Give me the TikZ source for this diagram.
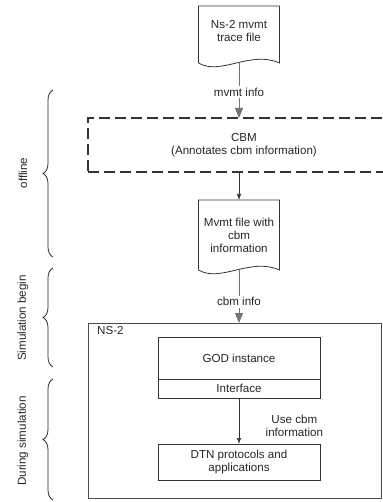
\documentclass[tikz,border=0pt]{standalone}
\usepackage{fontspec}
\setmainfont{Liberation Sans}
\usepackage{tikz}
\usetikzlibrary{arrows.meta}
\tikzset{>={Latex[length=6,width=4.5]}}
\usetikzlibrary{calc,positioning,decorations.pathreplacing}
\usepackage{xcolor}
\colorlet{mydarkgray}{black!80}
\colorlet{mygray}{black!55}

% document outline round a node: name, height above centre, depth below centre
\newcommand{\docoutline}[3]{%
  \draw[docline] ($(#1.center)+(-40.5,#3)$) -- ($(#1.center)+(-40.5,-#2)$)
    -- ($(#1.center)+(40.5,-#2)$) -- ($(#1.center)+(40.5,#3)$)
    .. controls ($(#1.center)+(11.5,#3-13)$) and ($(#1.center)+(-18.5,#3+13)$) .. ($(#1.center)+(-40.5,#3)$);}

\begin{document}
\begin{tikzpicture}[x=1pt,y=-1pt,
    every node/.style={font=\fontsize{11.6}{13}\selectfont,text=black!85,align=center},
    box/.style={draw=mydarkgray,line width=0.8,minimum width=162,outer sep=0,inner sep=0},
    docnode/.style={minimum width=81,inner sep=0,outer sep=0},
    docline/.style={draw=mydarkgray,line width=0.8},
    dashbox/.style={draw=mydarkgray,line width=1.6,dash pattern=on 11 off 5,outer sep=0},
    grayarrow/.style={draw=mygray,line width=0.8,-{Triangle[length=10,width=8,fill=mygray]}},
    blackarrow/.style={draw=mydarkgray,line width=0.7,->},
    bracestyle/.style={draw=black!85,line width=0.8,decorate,decoration={brace,amplitude=10}},
    sidelabel/.style={rotate=90}]
    \useasboundingbox (0,0) rectangle (382,502);

    % files
    \node[docnode,minimum height=63] (trace) at (239,31.5) {Ns-2 mvmt\\trace file};
    \docoutline{trace}{25.5}{31.5}
    \node[dashbox,minimum width=312,minimum height=54] (cbm) at (244,145) {CBM\\(Annotates cbm information)};
    \node[docnode,minimum height=70] (mvmt) at (239,235) {Mvmt file with\\cbm\\information};
    \docoutline{mvmt}{35}{35}

    % simulator
    \node[draw=black!70,line width=0.8,minimum width=293,minimum height=175,anchor=north west,outer sep=0] (ns2) at (88,323) {};
    \node[anchor=north west,inner sep=0] (ns2title) at (97,326) {NS-2};
    \node[box,minimum height=42] (god) at (239,358) {GOD instance};
    \node[box,minimum height=19,below=0pt of god] (iface) {Interface};
    \node[box,minimum height=36] (dtn) at (239,462) {DTN protocols and\\applications};

    \draw[grayarrow] (trace.south) -- (trace.south |- cbm.north) node[pos=0.53,fill=white,inner sep=1.5] {mvmt info};
    \draw[blackarrow] (cbm.south -| mvmt.north) -- (mvmt.north);
    \draw[grayarrow] (mvmt.south) -- (mvmt.south |- ns2.north) node[pos=0.6,fill=white,inner sep=1.5] {cbm info};
    \draw[blackarrow] (iface.south) -- (dtn.north) node[pos=0.6,right=23] {Use cbm\\information};

    % phases
    \draw[bracestyle] (53,257) -- (53,90);
    \draw[bracestyle] (53,367) -- (53,268);
    \draw[bracestyle] (53,500) -- (53,379);
    \node[sidelabel] (offline) at (23,173) {offline};
    \node[sidelabel] (simbegin) at (23,318) {Simulation begin};
    \node[sidelabel] (duringsim) at (23,441) {During simulation};

\end{tikzpicture}
\end{document}
